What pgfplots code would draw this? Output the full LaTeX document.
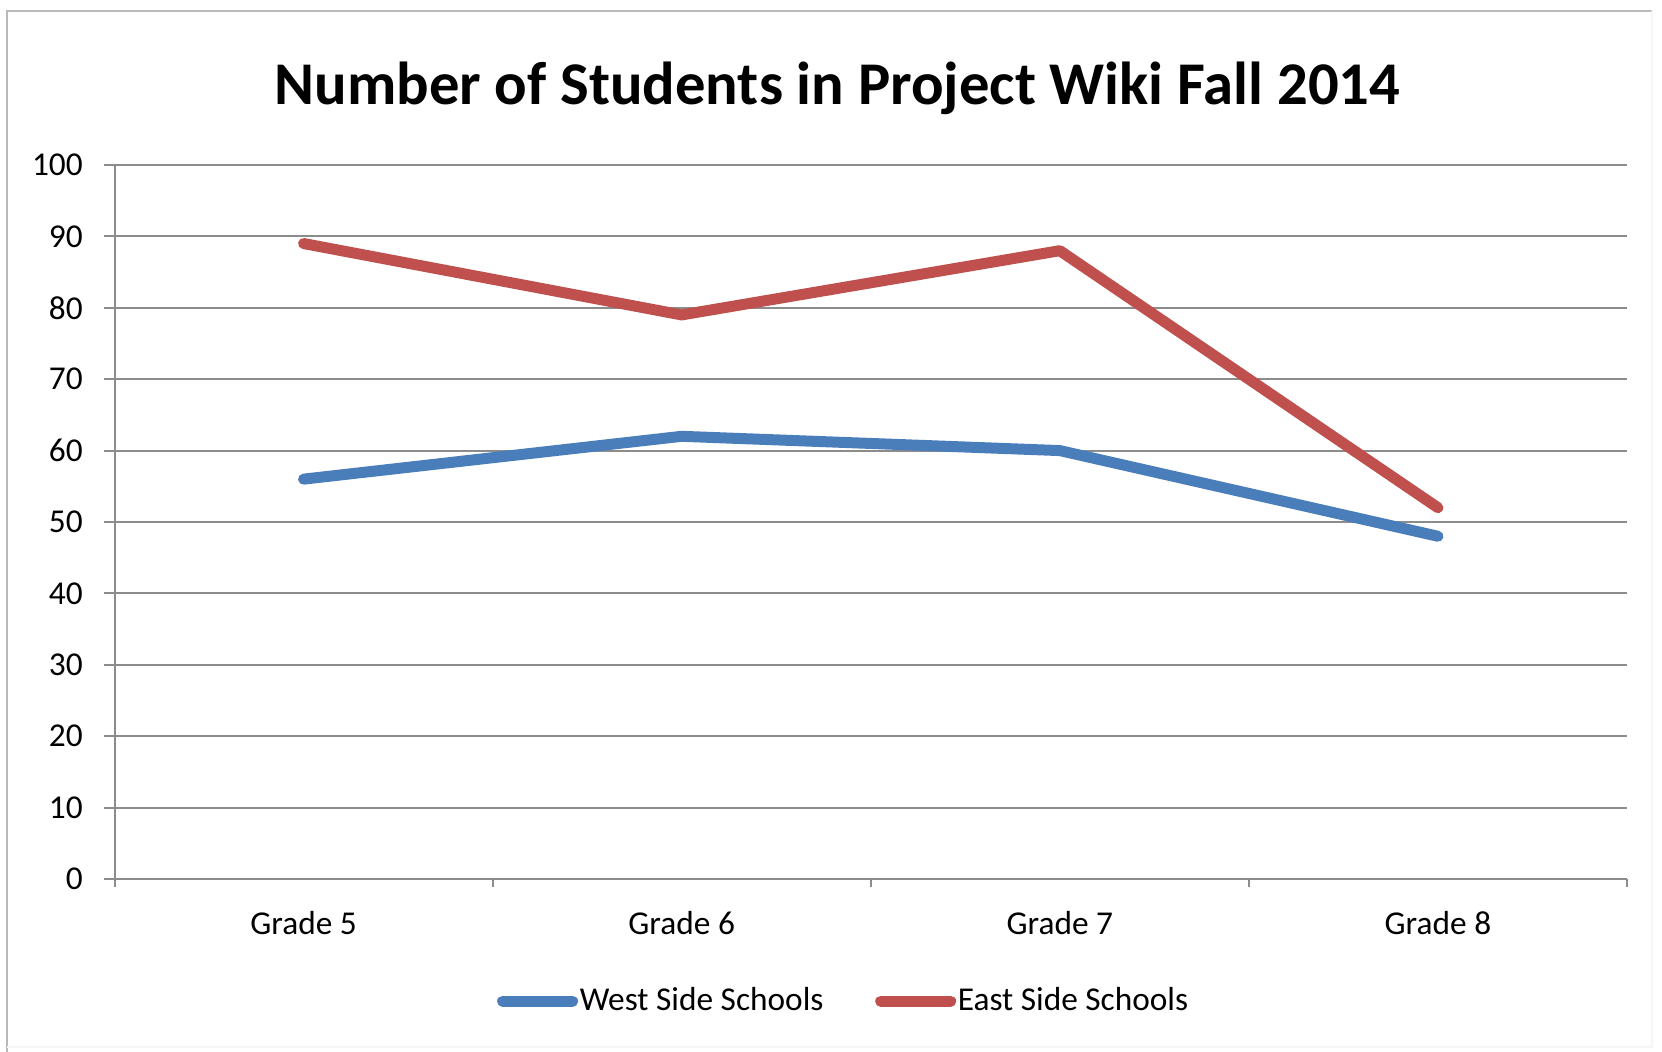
\documentclass[border=0pt]{standalone}
\usepackage{fontspec}
\setmainfont{Carlito}
\usepackage{pgfplots}
\pgfplotsset{compat=1.18}
\definecolor{westblue}{RGB}{74,126,187}
\definecolor{eastred}{RGB}{192,80,77}
\definecolor{gridgray}{RGB}{140,140,140}
\begin{document}
\begin{tikzpicture}
\useasboundingbox (0,0) rectangle (498.6pt,315.6pt);
\fill[white] (0,0) rectangle (498.6pt,315.6pt);
\draw[gray!55, line width=0.8pt] (2.1pt,0) -- (2.1pt,312.3pt) -- (495.6pt,312.3pt);
\draw[gray!8, line width=0.6pt] (495.6pt,312.3pt) -- (495.6pt,1.5pt) -- (2.1pt,1.5pt);
\begin{axis}[
  at={(34.35pt,51.9pt)}, anchor=south west,
  scale only axis, width=453.75pt, height=214.2pt,
  xmin=-0.5, xmax=3.5, ymin=0, ymax=100,
  axis x line*=bottom, axis y line*=left,
  axis line style={draw=gridgray, line width=0.6pt},
  xtick={0,1,2,3},
  xticklabels={Grade 5, Grade 6, Grade 7, Grade 8},
  minor xtick={-0.5,0.5,1.5,2.5,3.5},
  ytick={0,10,...,100},
  tick align=outside,
  major tick length=3pt, minor tick length=2.4pt,
  major x tick style={draw=none},
  every tick/.style={draw=gridgray, line width=0.6pt},
  minor x tick style={draw=gridgray, line width=0.6pt},
  ymajorgrids,
  major grid style={draw=gridgray, line width=0.6pt},
  tick label style={font=\fontsize{10}{12}\selectfont, text=black},
  /pgf/number format/assume math mode=true,
  yticklabel style={xshift=-3pt},
  xticklabel style={yshift=-3.2pt},
  title={Number of Students in Project Wiki Fall 2014},
  title style={at={(0.478,1.08)}, anchor=center, font=\fontsize{18.2}{21}\selectfont\bfseries},
  legend columns=2,
  legend style={at={(0.482,-0.171)}, anchor=center, draw=none, fill=none,
    font=\fontsize{10}{12}\selectfont,
    /tikz/every even column/.append style={column sep=15pt},
    nodes={inner sep=0.5pt}},
  legend image code/.code={\draw[#1, line cap=round] (0pt,0pt) -- (21pt,0pt);},
  clip=false,
]
\addplot[westblue, line width=3.3pt, line cap=round, line join=round] coordinates {(0,56) (1,62) (2,60) (3,48)};
\addlegendentry{West Side Schools}
\addplot[eastred, line width=3.3pt, line cap=round, line join=round] coordinates {(0,89) (1,79) (2,88) (3,52)};
\addlegendentry{East Side Schools}
\end{axis}
\end{tikzpicture}
\end{document}
